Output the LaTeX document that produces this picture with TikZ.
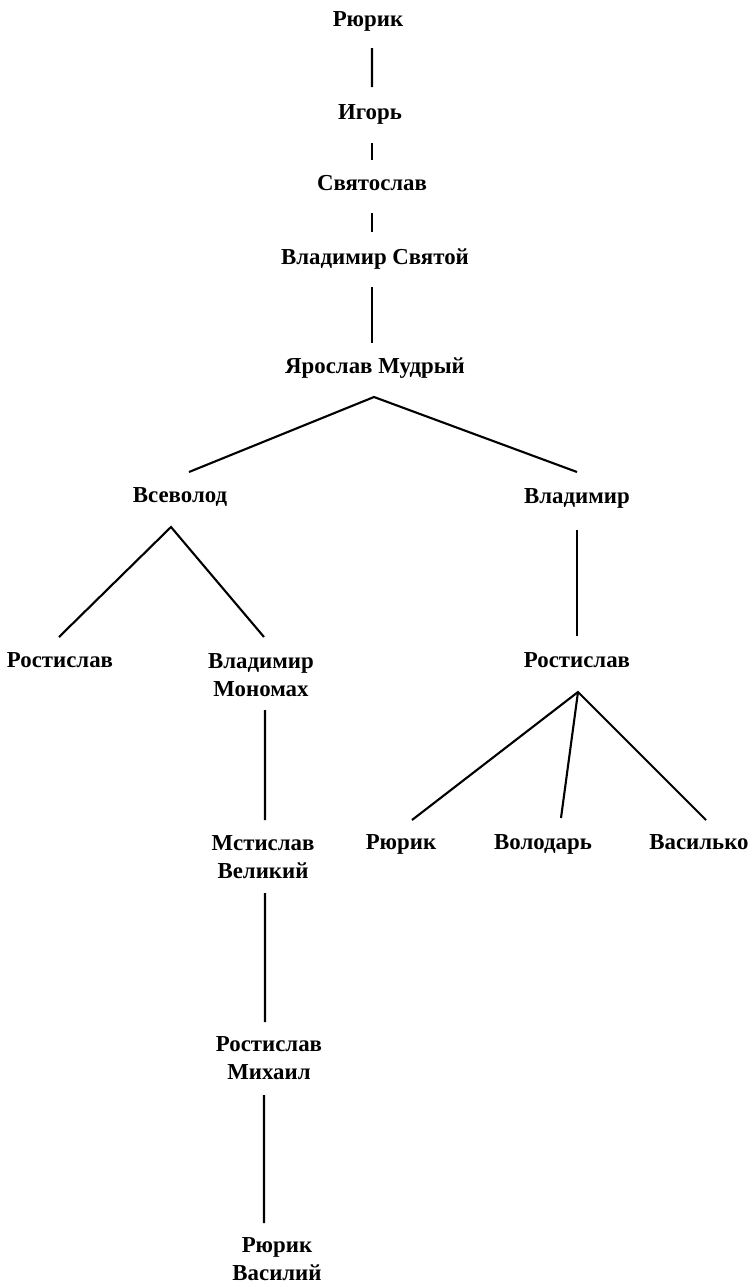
\documentclass[tikz,border=0pt]{standalone}
\usepackage{fontspec}
\setmainfont{Liberation Serif}
\usetikzlibrary{positioning,calc}

\begin{document}
\begin{tikzpicture}[
        person/.style={font=\bfseries\fontsize{13}{16}\selectfont, align=center, inner sep=0pt},
        one/.style={person, text height=11pt, text depth=3pt},
        kin/.style={line width=1.2pt},
        on grid
    ]
    \useasboundingbox (0,0) rectangle (15.08,-25.74);
    \node [one] at (7.36,-0.38) (R1) {Рюрик}; % Rurik at top
    \node [one, below right=1.86cm and 0.04cm of R1] (I) {Игорь};
    \node [one, below right=1.42cm and 0.04cm of I] (Sv) {Святослав};
    \node [one, below right=1.48cm and 0.06cm of Sv] (VS) {Владимир Святой};
    \node [one, below=2.18cm of VS] (YM) {Ярослав Мудрый};
    \node [one, below left=2.58cm and 3.9cm of YM] (Vs) {Всеволод}; % left branch
    \node [one, below right=2.6cm and 4.04cm of YM] (Vl) {Владимир}; % right branch
    \node [one, below left=3.3cm and 2.4cm of Vs] (Ro1) {Ростислав};
    \node [person, below right=3.6cm and 1.62cm of Vs] (VM) {Владимир\\Мономах};
    \node [one, below=3.28cm of Vl] (Ro2) {Ростислав};
    \node [one, below left=3.64cm and 3.52cm of Ro2] (R2) {Рюрик}; % sons of Rostislav
    \node [one, below left=3.64cm and 0.68cm of Ro2] (Vo) {Володарь};
    \node [one, below right=3.64cm and 2.44cm of Ro2] (Va) {Василько};
    \node [person, below right=3.64cm and 0.04cm of VM] (MV) {Мстислав\\Великий};
    \node [person, below right=4.02cm and 0.12cm of MV] (RM) {Ростислав\\Михаил};
    \node [person, below right=4.02cm and 0.16cm of RM] (RV) {Рюрик\\Василий};
    % fork points
    \coordinate (YMf) at ($(YM)+(-0.02,-0.62)$);
    \coordinate (Vsf) at ($(Vs)+(-0.18,-0.64)$);
    \coordinate (Ro2f) at ($(Ro2)+(0.02,-0.64)$);
    % straight line of descent
    \draw [kin] ($(R1)+(0.08,-0.58)$) -- ($(I)+(0.04,0.5)$);
    \draw [kin] ($(I)+(0.04,-0.62)$) -- ($(Sv)+(0,0.46)$);
    \draw [kin] ($(Sv)+(0,-0.6)$) -- ($(VS)+(-0.06,0.5)$);
    \draw [kin] ($(VS)+(-0.06,-0.6)$) -- ($(YM)+(-0.06,0.46)$);
    % branches
    \draw [kin] ($(Vs)+(0.18,0.46)$) -- (YMf) -- ($(Vl)+(0,0.48)$);
    \draw [kin] ($(Ro1)+(-0.02,0.46)$) -- (Vsf) -- ($(VM)+(0.06,0.76)$);
    \draw [kin] ($(Vl)+(0,-0.68)$) -- ($(Ro2)+(0,0.48)$);
    \draw [kin] ($(R2)+(0.22,0.44)$) -- (Ro2f) -- ($(Va)+(0.14,0.44)$);
    \draw [kin] (Ro2f) -- ($(Vo)+(0.36,0.48)$);
    \draw [kin] ($(VM)+(0.08,-0.7)$) -- ($(MV)+(0.04,0.74)$);
    \draw [kin] ($(MV)+(0.04,-0.72)$) -- ($(RM)+(-0.08,0.72)$);
    \draw [kin] ($(RM)+(-0.1,-0.74)$) -- ($(RV)+(-0.26,0.72)$);
\end{tikzpicture}
\end{document}
